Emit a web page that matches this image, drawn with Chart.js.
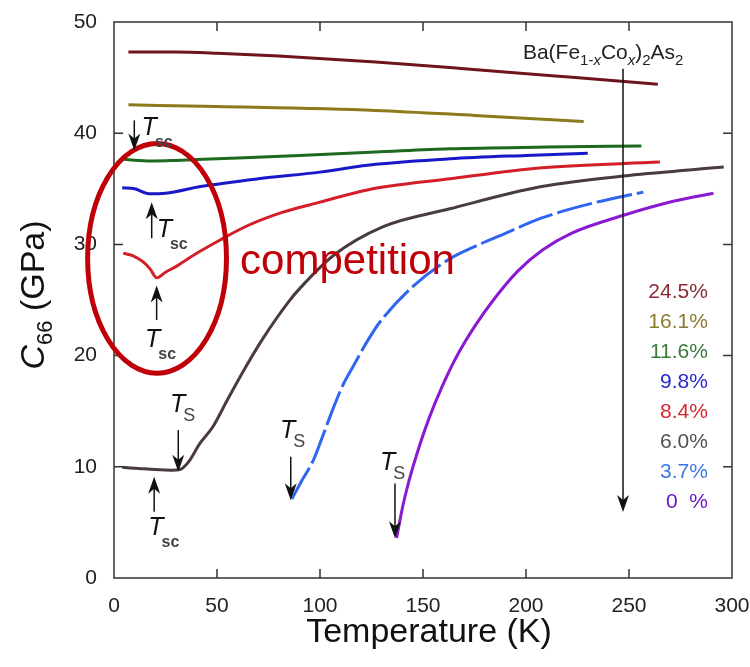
<!DOCTYPE html>
<html>
<head>
<meta charset="utf-8">
<script src="https://cdn.jsdelivr.net/npm/chart.js@4.4.1/dist/chart.umd.min.js"></script>
<style>
  html, body { margin: 0; padding: 0; background: #fff; }
  #wrap { width: 750px; height: 667px; }
</style>
</head>
<body>
<div id="wrap"><canvas id="chart" width="750" height="667"></canvas></div>
<script>
// C66 (GPa) against temperature (K), one pair per Co doping
const t245 = [7, 30, 50, 80, 127, 170, 224, 264];
const c245 = [47.3, 47.3, 47.2, 46.95, 46.4, 45.8, 45.0, 44.4];

const t161 = [7, 50, 127, 175, 228];
const c161 = [42.55, 42.4, 42.05, 41.6, 41.05];

const t116 = [5, 12, 20, 30, 50, 90, 127, 163, 210, 256];
const c116 = [37.65, 37.55, 37.5, 37.55, 37.7, 38.0, 38.3, 38.6, 38.75, 38.85];

const t98 = [4, 10, 17, 25, 42, 70, 100, 127, 163, 200, 230];
const c98 = [35.1, 35.0, 34.55, 34.6, 35.2, 35.9, 36.5, 37.2, 37.7, 38.0, 38.2];

const t84 = [4.5, 9, 14, 17.5, 20.7, 25, 30, 35, 42, 51.5, 65, 82, 100, 123, 163, 208, 265];
const c84 = [29.2, 29.0, 28.45, 27.8, 27.0, 27.5, 28.0, 28.6, 29.4, 30.4, 31.7, 32.9, 33.8, 34.9, 35.9, 36.9, 37.4];

const t60 = [4, 12, 20, 28, 32, 36, 41.7, 48, 55, 64, 72.5, 85, 90, 106.5, 130.7, 163, 207.6, 250, 296];
const c60 = [9.95, 9.85, 9.75, 9.7, 9.75, 10.4, 12.1, 13.6, 16.0, 19.0, 21.6, 24.9, 26.0, 29.0, 31.6, 33.2, 35.2, 36.2, 36.95];

const t37 = [86.3, 91, 96.8, 101, 106.5, 111, 116, 123, 129, 145, 163, 175, 190, 208, 230, 257];
const c37 = [7.1, 8.7, 10.6, 12.6, 15.3, 17.3, 19.0, 21.3, 23.0, 26.2, 28.7, 29.8, 31.0, 32.4, 33.6, 34.7];

const t0 = [137.2, 140, 143, 148.5, 153, 159, 166, 175, 185, 196, 208, 222, 247, 272, 291];
const c0 = [3.6, 6.3, 8.6, 12.0, 14.4, 17.1, 19.8, 22.6, 25.2, 27.6, 29.5, 31.0, 32.6, 33.9, 34.6];

const seriesNames = ['24.5%', '16.1%', '11.6%', '9.8%', '8.4%', '6.0%', '3.7%', '0  %'];
const lineColors = ['#6e141c', '#8c7a1e', '#1e6a1e', '#1818c8', '#d41e28', '#4a3c3c', '#2e66f0', '#8a1ad2'];
const textColors = ['#8a2a34', '#8c7a2e', '#3a7a3a', '#2828c8', '#d42832', '#555050', '#3c78e6', '#6a1ac8'];

const xTicks = [0, 50, 100, 150, 200, 250, 300];
const yTicks = [0, 10, 20, 30, 40, 50];

// arrows: [T, from C, to C], labels: [T, C, subscript]
const arrows = [[9.85, 41.15, 38.45], [18.3, 30.55, 33.8], [20.7, 23.2, 26.3], [31.2, 13.3, 9.55],
                [19.5, 5.96, 9.1], [85.8, 10.9, 7.0], [136.4, 8.5, 3.57], [247.1, 45.8, 5.93]];
const tLabels = [[13.4, 39.8, 'sc'], [20.7, 30.66, 'sc'], [15.05, 20.78, 'sc'], [27.2, 14.94, 'S'],
                 [16.65, 3.86, 'sc'], [80.6, 12.55, 'S'], [129.1, 9.7, 'S']];

const pairs = [[t245, c245], [t161, c161], [t116, c116], [t98, c98], [t84, c84], [t60, c60], [t37, c37], [t0, c0]];

const datasets = pairs.map((p, i) => ({
    label: seriesNames[i],
    data: p[0].map((t, j) => ({ x: t, y: p[1][j] })),
    borderColor: lineColors[i],
    borderWidth: 3,
    borderDash: i === 6 ? [36, 5] : [],
    pointRadius: 0,
    fill: false,
    cubicInterpolationMode: 'monotone'
}));

const FONT = '"Liberation Sans", Arial, sans-serif';

function arrowHead(ctx, x, y, dir) {
    // dir = 1 points down, -1 points up
    ctx.beginPath();
    ctx.moveTo(x, y);
    ctx.lineTo(x - 6, y - dir * 17);
    ctx.lineTo(x, y - dir * 12);
    ctx.lineTo(x + 6, y - dir * 17);
    ctx.closePath();
    ctx.fill();
}

function drawSubText(ctx, parts, x, y) {
    // parts: [text, size, italic, dy]
    parts.forEach(p => {
        ctx.font = (p[2] ? 'italic ' : '') + p[1] + 'px ' + FONT;
        ctx.fillText(p[0], x, y + p[3]);
        x += ctx.measureText(p[0]).width;
    });
    return x;
}

function noOverflow(s) {
    s.paddingTop = 0; s.paddingBottom = 0; s.paddingLeft = 0; s.paddingRight = 0;
}

const decor = {
    id: 'decor',
    afterDatasetsDraw(chart) {
        const ctx = chart.ctx;
        const xs = chart.scales.x, ys = chart.scales.y;
        const a = chart.chartArea;
        const px = v => xs.getPixelForValue(v);
        const py = v => ys.getPixelForValue(v);
        ctx.save();

        // frame and inward ticks
        ctx.strokeStyle = '#333';
        ctx.lineWidth = 1.5;
        ctx.strokeRect(a.left, a.top, a.right - a.left, a.bottom - a.top);
        ctx.beginPath();
        xTicks.slice(1, -1).forEach(t => {
            ctx.moveTo(px(t), a.bottom); ctx.lineTo(px(t), a.bottom - 9);
            ctx.moveTo(px(t), a.top); ctx.lineTo(px(t), a.top + 9);
        });
        yTicks.slice(1, -1).forEach(c => {
            ctx.moveTo(a.left, py(c)); ctx.lineTo(a.left + 9, py(c));
            ctx.moveTo(a.right, py(c)); ctx.lineTo(a.right - 9, py(c));
        });
        ctx.stroke();

        // ellipse
        ctx.strokeStyle = '#c00008';
        ctx.lineWidth = 5;
        ctx.beginPath();
        ctx.ellipse(px(20.9), py(28.75), px(33.7) - px(0), py(0) - py(10.33), 0, 0, Math.PI * 2);
        ctx.stroke();

        ctx.fillStyle = '#c00008';
        ctx.font = '42px ' + FONT;
        ctx.textBaseline = 'alphabetic';
        ctx.fillText('competition', px(61.2), py(27.36));

        // arrows
        ctx.strokeStyle = '#111';
        ctx.fillStyle = '#111';
        ctx.lineWidth = 1.5;
        arrows.forEach(ar => {
            const x = px(ar[0]), y1 = py(ar[1]), y2 = py(ar[2]);
            const dir = y2 > y1 ? 1 : -1;
            ctx.beginPath();
            ctx.moveTo(x, y1);
            ctx.lineTo(x, y2 - dir * 10);
            ctx.stroke();
            arrowHead(ctx, x, y2, dir);
        });

        // T labels
        tLabels.forEach(l => {
            const x = px(l[0]), y = py(l[1]);
            ctx.fillStyle = '#111';
            ctx.font = 'italic 25px ' + FONT;
            ctx.fillText('T', x, y);
            const w = ctx.measureText('T').width;
            ctx.fillStyle = '#444';
            ctx.font = (l[2] === 'sc' ? 'bold 16px ' : '18px ') + FONT;
            ctx.fillText(l[2], x + w - 2, y + (l[2] === 'sc' ? 12 : 9));
        });

        // compound
        ctx.fillStyle = '#222';
        drawSubText(ctx, [['Ba(Fe', 21, false, 0], ['1-', 15, false, 6], ['x', 15, true, 6],
            ['Co', 21, false, 0], ['x', 15, true, 6], [')', 21, false, 0], ['2', 15, false, 6],
            ['As', 21, false, 0], ['2', 15, false, 6]], px(198.5), py(46.7));

        // doping legend
        ctx.font = '21px ' + FONT;
        ctx.textAlign = 'right';
        ctx.textBaseline = 'middle';
        seriesNames.forEach((n, i) => {
            ctx.fillStyle = textColors[i];
            ctx.fillText(n, px(288.3), py(25.72) + i * 30);
        });

        // axis titles
        ctx.fillStyle = '#111';
        ctx.textAlign = 'center';
        ctx.textBaseline = 'alphabetic';
        ctx.font = '34px ' + FONT;
        ctx.fillText('Temperature (K)', (a.left + a.right) / 2 + 6, 642);

        ctx.translate(44, (a.top + a.bottom) / 2 - 5);
        ctx.rotate(-Math.PI / 2);
        ctx.textAlign = 'left';
        const parts = [['C', 34, true, 0], ['66', 22, false, 8], [' (GPa)', 34, false, 0]];
        let total = 0;
        parts.forEach(p => { ctx.font = (p[2] ? 'italic ' : '') + p[1] + 'px ' + FONT; total += ctx.measureText(p[0]).width; });
        drawSubText(ctx, parts, -total / 2, 0);
        ctx.restore();
    }
};

new Chart(document.getElementById('chart'), {
    type: 'line',
    data: { datasets },
    options: {
        responsive: false,
        animation: false,
        devicePixelRatio: 1,
        layout: { padding: { top: 22, right: 18, left: 0, bottom: 0 } },
        plugins: { legend: { display: false }, tooltip: { enabled: false } },
        scales: {
            x: {
                type: 'linear', min: 0, max: 300,
                afterFit: s => { s.height = 89; noOverflow(s); },
                afterBuildTicks: s => { s.ticks = xTicks.map(v => ({ value: v })); },
                grid: { display: false, drawTicks: false, tickLength: 0 }, border: { display: false },
                ticks: { color: '#222', padding: 16, maxRotation: 0, font: { size: 21, family: FONT } }
            },
            y: {
                type: 'linear', min: 0, max: 50,
                afterFit: s => { s.width = 114; noOverflow(s); },
                afterBuildTicks: s => { s.ticks = yTicks.map(v => ({ value: v })); },
                grid: { display: false, drawTicks: false, tickLength: 0 }, border: { display: false },
                ticks: { color: '#222', padding: 17, font: { size: 21, family: FONT } }
            }
        }
    },
    plugins: [decor]
});
</script>
</body>
</html>
